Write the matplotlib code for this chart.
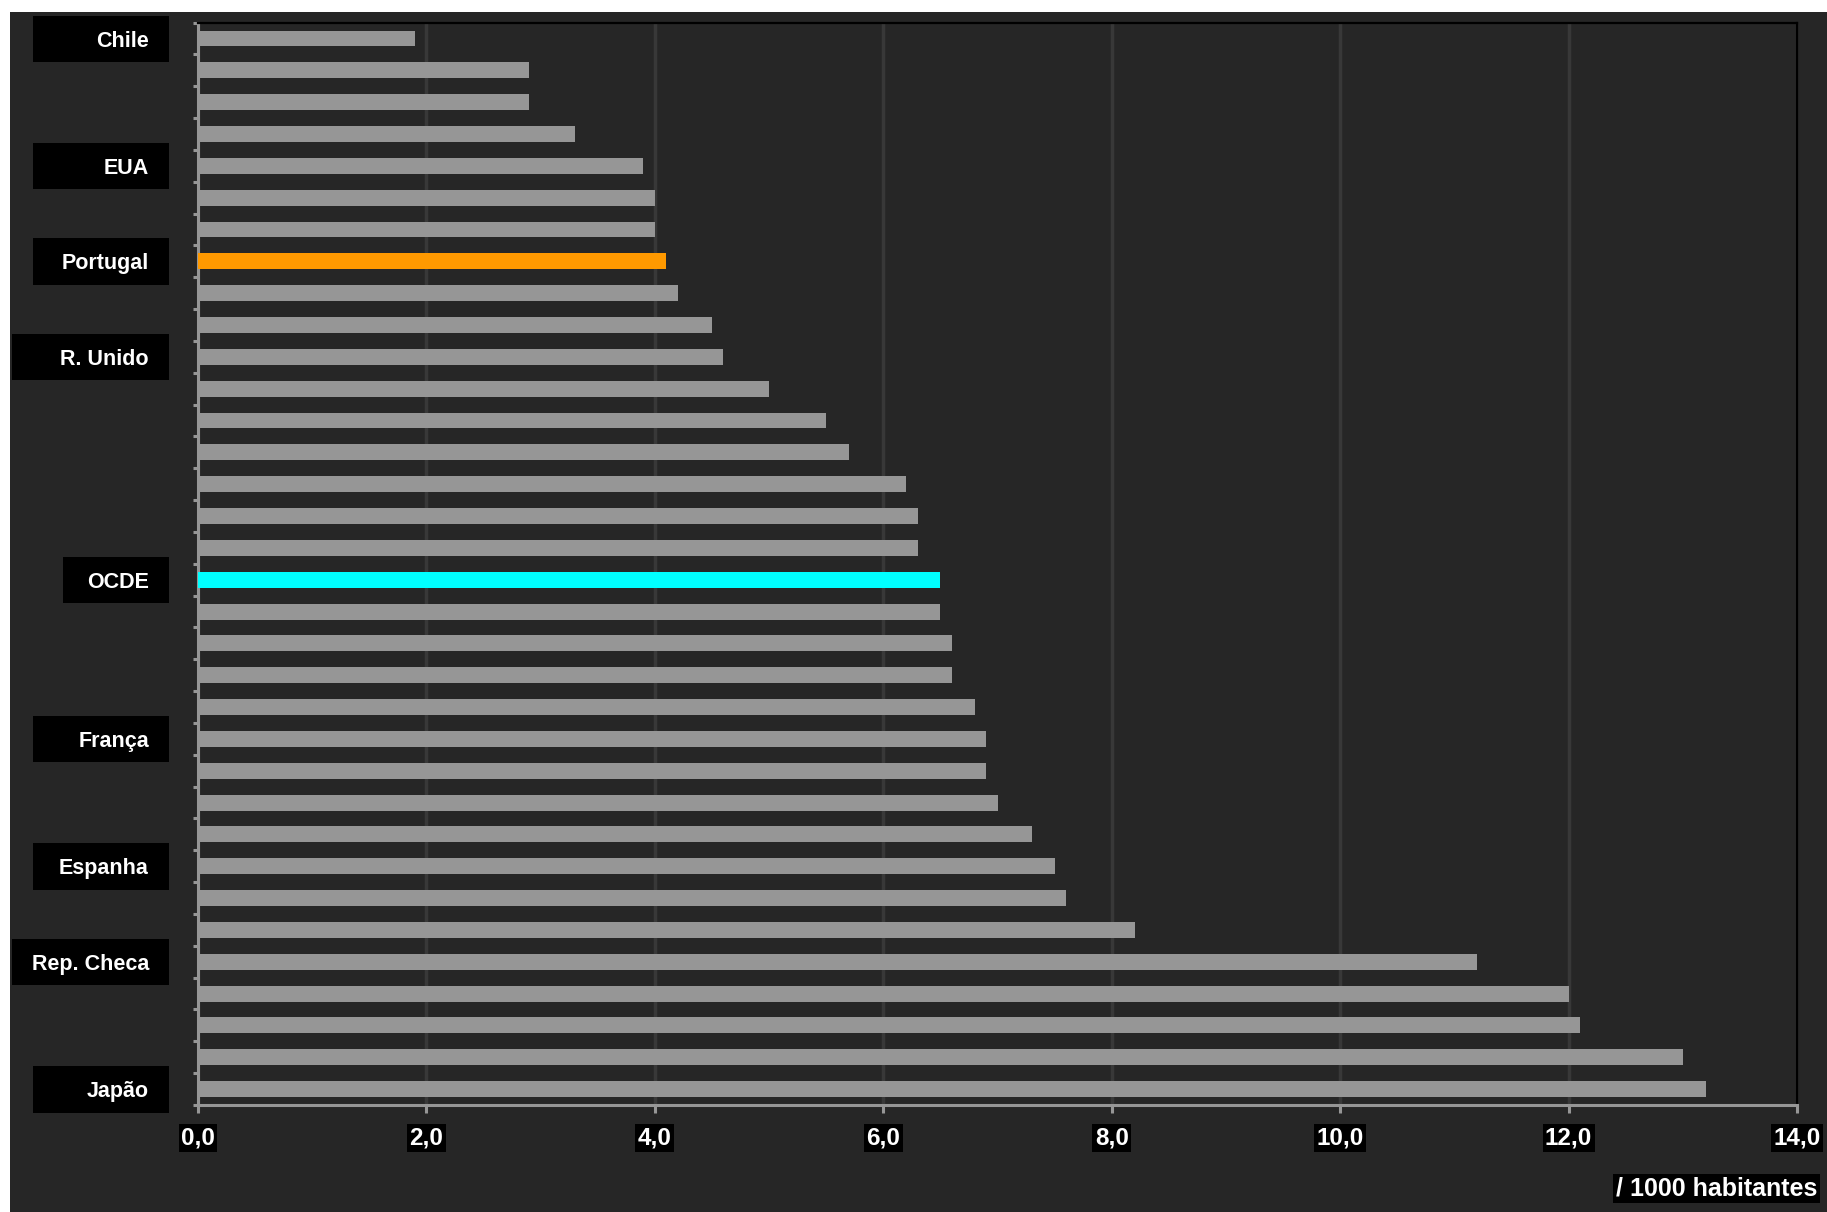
import matplotlib
matplotlib.use("Agg")
import matplotlib.pyplot as plt
import matplotlib.transforms as mtransforms
from matplotlib.patches import Rectangle
import numpy as np

# Data: rate per 1000 inhabitants, ordered top to bottom
countries = ["Chile", "", "", "", "EUA", "", "", "Portugal", "", "", "R. Unido",
             "", "", "", "", "", "", "OCDE", "", "", "", "", "França", "", "",
             "", "Espanha", "", "", "Rep. Checa", "", "", "", "Japão"]
values = [1.9, 2.9, 2.9, 3.3, 3.9, 4.0, 4.0, 4.1, 4.2, 4.5, 4.6, 5.0, 5.5, 5.7,
          6.2, 6.3, 6.3, 6.5, 6.5, 6.6, 6.6, 6.8, 6.9, 6.9, 7.0, 7.3, 7.5, 7.6,
          8.2, 11.2, 12.0, 12.1, 13.0, 13.2]
xticks = [0, 2, 4, 6, 8, 10, 12, 14]
xtick_labels = ["0,0", "2,0", "4,0", "6,0", "8,0", "10,0", "12,0", "14,0"]
unit_label = "/ 1000 habitantes"

# Styling
BG = "#262626"
BAR = "#969696"
HIGHLIGHT = {"Portugal": "#FF9900", "OCDE": "#00FFFF"}
AXIS = "#969696"
GRID = "#383838"
# left edge (pixels) of the black box behind each country label
box_left = {"R. Unido": 12, "Rep. Checa": 12, "OCDE": 63}

plt.rcParams["font.family"] = ["Liberation Sans", "DejaVu Sans"]

W, H = 1827, 1212
fig = plt.figure(figsize=(W / 100, H / 100), dpi=100, facecolor="white")

# dark panel behind everything
fig.patches.append(Rectangle((10 / W, 0), 1 - 10 / W, 1 - 12 / H,
                             transform=fig.transFigure, facecolor=BG,
                             edgecolor="none", zorder=-10))

ax = fig.add_axes([198 / W, 1 - 1105 / H, (1797 - 198) / W, (1105 - 22.6) / H])
ax.set_facecolor(BG)

y = np.arange(len(values))
colors = [HIGHLIGHT.get(c, BAR) for c in countries]
ax.barh(y, values, height=0.5, color=colors, zorder=3)

ax.set_xlim(0, 14)
ax.set_ylim(len(values) - 0.5, -0.5)

ax.set_xticks(xticks)
ax.set_xticklabels(xtick_labels)
ax.set_yticks(np.arange(-0.5, len(values), 1.0))
ax.set_yticklabels([])

ax.grid(axis="x", color=GRID, linewidth=2.5, zorder=1)
ax.set_axisbelow(True)

for side in ("left", "bottom"):
    ax.spines[side].set_color(AXIS)
    ax.spines[side].set_linewidth(2.2)
for side in ("top", "right"):
    ax.spines[side].set_color("black")
    ax.spines[side].set_linewidth(1.6)

ax.tick_params(axis="y", direction="out", length=3.5, width=2.2, color=AXIS)
ax.tick_params(axis="x", direction="out", length=5.5, width=2.2, color=AXIS,
               pad=10, labelsize=17.5, labelcolor="white")
for lbl in ax.get_xticklabels():
    lbl.set_fontweight("bold")
    lbl.set_bbox(dict(facecolor="black", edgecolor="none", pad=1.8))

# country labels in black boxes to the left of the axis
blend = mtransforms.blended_transform_factory(fig.transFigure, ax.transData)
for i, name in enumerate(countries):
    if not name:
        continue
    left = box_left.get(name, 33)
    ax.add_patch(Rectangle((left / W, i - 0.72), (169 - left) / W, 1.46,
                           transform=blend, facecolor="black",
                           edgecolor="none", clip_on=False, zorder=5))
    ax.text(149 / W, i, name, transform=blend, ha="right",
            va="center_baseline", color="white", fontsize=15.5,
            fontweight="bold", zorder=6, clip_on=False)

fig.text(1817 / W, 1 - 1188 / H, unit_label, ha="right", va="center",
         color="white", fontsize=18, fontweight="bold",
         bbox=dict(facecolor="black", edgecolor="none", pad=1.8))

fig.savefig("out.png", dpi=100, facecolor=fig.get_facecolor())
